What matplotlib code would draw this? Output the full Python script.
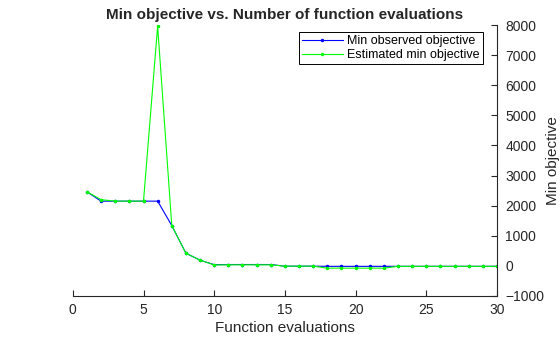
import numpy as np
import matplotlib
matplotlib.use("Agg")
from matplotlib import pyplot as plt

plt.rcParams['font.family'] = ['Liberation Sans', 'DejaVu Sans']

# data
evals = np.arange(1, 31)
min_observed = [2460, 2150, 2150, 2150, 2150, 2150, 1340, 420, 190, 40,
                45, 45, 45, 45, -10, -10, -10, -15, -15, -15,
                -15, -15, -15, -15, -15, -15, -15, -15, -15, -15]
est_min = [2460, 2200, 2150, 2150, 2150, 7960, 1340, 420, 190, 30,
           35, 35, 35, 35, -10, -10, -10, -75, -75, -75,
           -75, -75, -15, -15, -15, -15, -15, -15, -15, -15]

fig = plt.figure(figsize=(5.6, 3.37), dpi=100)
ax = fig.add_axes([0.130, 0.1217, 0.7575, 0.8041])

ax.plot(evals, min_observed, color='#0000ff', lw=0.8, marker='.', ms=3,
        label='Min observed objective')
ax.plot(evals, est_min, color='#00ff00', lw=0.8, marker='.', ms=3,
        label='Estimated min objective')

ax.set_xlim(0, 30)
ax.set_ylim(-1000, 8000)
ax.set_xticks(np.arange(0, 31, 5))
ax.set_yticks(np.arange(-1000, 8001, 1000))

ax.yaxis.tick_right()
ax.yaxis.set_label_position('right')
ax.spines['top'].set_visible(False)
ax.spines['left'].set_visible(False)
for s in ('bottom', 'right'):
    ax.spines[s].set_linewidth(0.8)
    ax.spines[s].set_color('#262626')
ax.tick_params(direction='in', length=4, labelsize=10, colors='#262626',
               width=0.8)
ax.tick_params(axis='y', pad=6)
ax.tick_params(axis='x', pad=5)

ax.set_xlabel('Function evaluations', fontsize=11, color='#262626', labelpad=3)
ax.set_ylabel('Min objective', fontsize=11, color='#262626', labelpad=1)
ax.set_title('Min objective vs. Number of function evaluations',
             fontsize=11, fontweight='bold', color='#262626', pad=4)

leg = ax.legend(loc='upper right', bbox_to_anchor=(0.967, 0.974),
                fontsize=9, fancybox=False, framealpha=1, edgecolor='black',
                borderpad=0.25, handlelength=3.3, handletextpad=0.35,
                labelspacing=0.15, borderaxespad=0)
leg.get_frame().set_linewidth(0.7)

fig.savefig('out.png', dpi=100)
